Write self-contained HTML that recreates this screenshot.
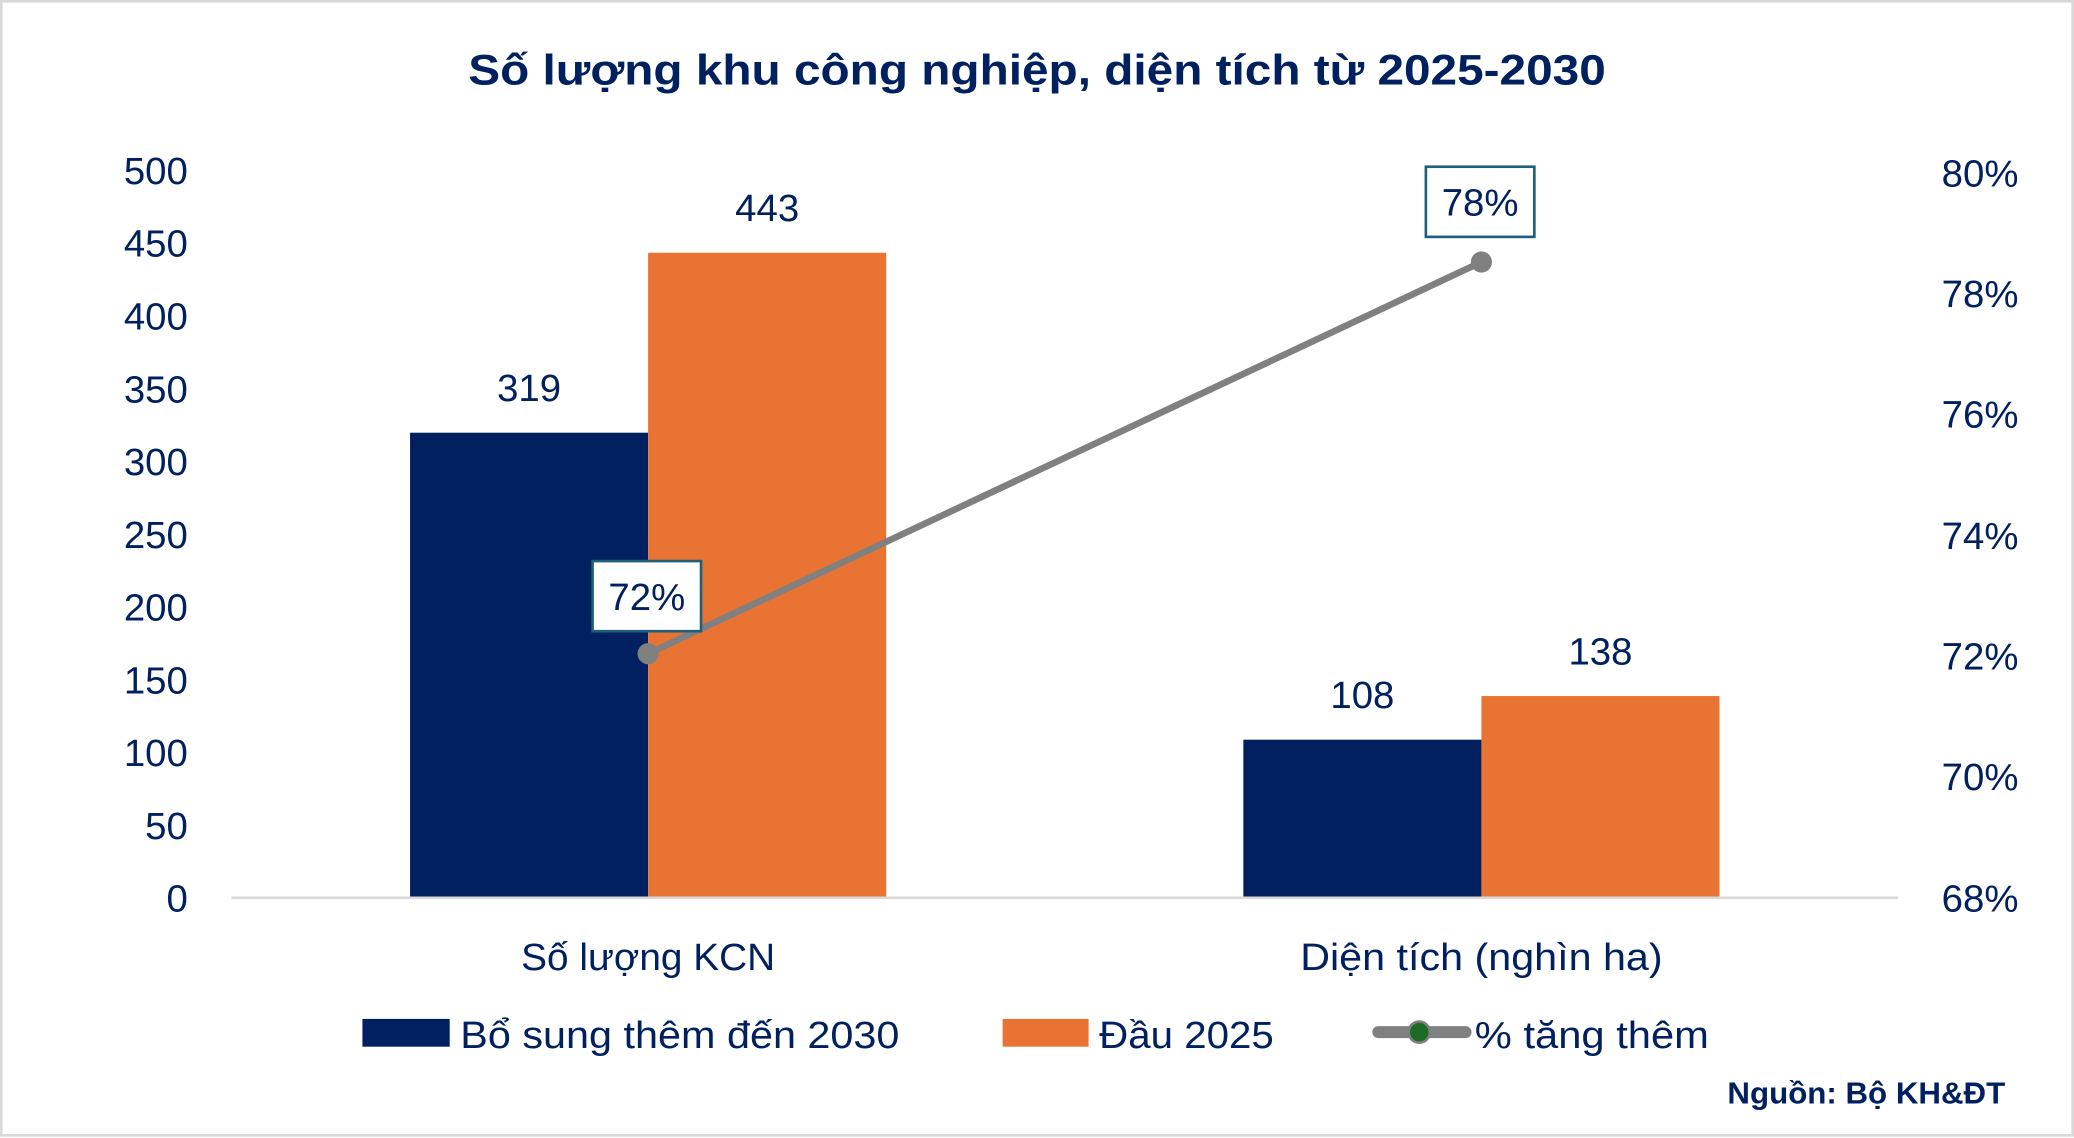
<!DOCTYPE html>
<html><head><meta charset="utf-8"><style>
html,body{margin:0;padding:0;background:#fff;}
svg{display:block;}
text{font-family:"Liberation Sans",sans-serif;fill:#002060;}
</style></head><body>
<svg width="2074" height="1138" viewBox="0 0 1568 860" preserveAspectRatio="none" xmlns="http://www.w3.org/2000/svg">
<rect x="1" y="1" width="1566" height="857" fill="#fff" stroke="#d9d9d9" stroke-width="2"/>
<text x="784" y="64" text-anchor="middle" font-size="32" font-weight="bold" textLength="860" lengthAdjust="spacingAndGlyphs">Số lượng khu công nghiệp, diện tích từ 2025-2030</text>
<g font-size="29" text-anchor="end">
<text x="142" y="139">500</text><text x="142" y="194">450</text><text x="142" y="249">400</text>
<text x="142" y="304">350</text><text x="142" y="359">300</text><text x="142" y="414">250</text>
<text x="142" y="469">200</text><text x="142" y="524">150</text><text x="142" y="579">100</text>
<text x="142" y="634">50</text><text x="142" y="689">0</text>
</g>
<g font-size="29" text-anchor="end">
<text x="1526" y="141">80%</text><text x="1526" y="232">78%</text><text x="1526" y="323">76%</text>
<text x="1526" y="415">74%</text><text x="1526" y="506">72%</text><text x="1526" y="597">70%</text>
<text x="1526" y="689">68%</text>
</g>
<rect x="310" y="327" width="180" height="351" fill="#002060"/>
<rect x="490" y="191" width="180" height="487" fill="#e87333"/>
<rect x="940" y="559" width="180" height="119" fill="#002060"/>
<rect x="1120" y="526" width="180" height="152" fill="#e87333"/>
<line x1="175" y1="678.5" x2="1435" y2="678.5" stroke="#d9d9d9" stroke-width="2"/>
<g font-size="29" text-anchor="middle">
<text x="400" y="303">319</text><text x="580" y="167">443</text>
<text x="1030" y="535">108</text><text x="1210" y="502">138</text>
<text x="490" y="733" textLength="192" lengthAdjust="spacingAndGlyphs">Số lượng KCN</text>
<text x="1120" y="733" textLength="274" lengthAdjust="spacingAndGlyphs">Diện tích (nghìn ha)</text>
</g>
<line x1="490" y1="494" x2="1120" y2="198" stroke="#808080" stroke-width="5"/>
<circle cx="490" cy="494" r="8" fill="#808080"/>
<circle cx="1120" cy="198" r="8" fill="#808080"/>
<rect x="448" y="424" width="82" height="53" fill="#fff" stroke="#1f5f7a" stroke-width="2"/>
<text x="489" y="461" font-size="29" text-anchor="middle">72%</text>
<rect x="1078" y="126" width="82" height="53" fill="#fff" stroke="#1f5f7a" stroke-width="2"/>
<text x="1119" y="163" font-size="29" text-anchor="middle">78%</text>
<rect x="274" y="770" width="66" height="21" fill="#002060"/>
<text x="348" y="792" font-size="29" textLength="332" lengthAdjust="spacingAndGlyphs">Bổ sung thêm đến 2030</text>
<rect x="758" y="770" width="65" height="21" fill="#e87333"/>
<text x="831" y="792" font-size="29" textLength="132" lengthAdjust="spacingAndGlyphs">Đầu 2025</text>
<line x1="1042" y1="780" x2="1108" y2="780" stroke="#808080" stroke-width="9" stroke-linecap="round"/>
<circle cx="1073" cy="780" r="8" fill="#1e6b26" stroke="#808080" stroke-width="2"/>
<text x="1115" y="792" font-size="29" textLength="177" lengthAdjust="spacingAndGlyphs">% tăng thêm</text>
<text x="1516" y="834" font-size="23" font-weight="bold" text-anchor="end" textLength="210" lengthAdjust="spacingAndGlyphs">Nguồn: Bộ KH&amp;ĐT</text>
</svg>
</body></html>
